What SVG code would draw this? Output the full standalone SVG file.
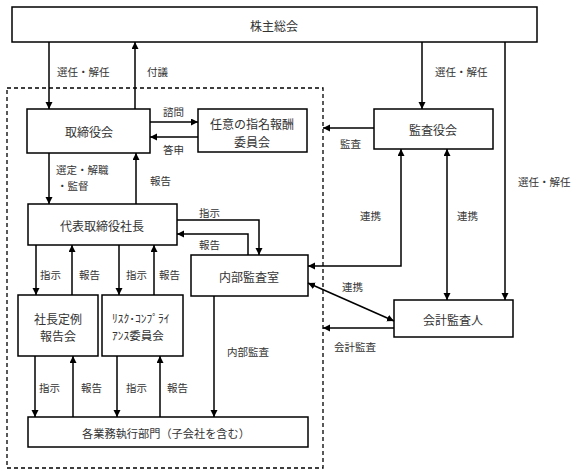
<svg xmlns="http://www.w3.org/2000/svg" width="576" height="474" viewBox="0 0 576 474">
<style>
.box{fill:#fff;stroke:#000;stroke-width:1.5}
.ln{fill:none;stroke:#000;stroke-width:1.5}
.t{font-family:"Noto Sans CJK JP","Noto Sans",sans-serif;font-size:12px;fill:#333;text-anchor:middle;dominant-baseline:central}
.l{font-family:"Noto Sans CJK JP","Noto Sans",sans-serif;font-size:10.5px;fill:#333;dominant-baseline:central}
.dash{fill:none;stroke:#000;stroke-width:1.3;stroke-dasharray:4 3}
</style>
<defs>
<marker id="ah" markerUnits="userSpaceOnUse" markerWidth="8" markerHeight="8" refX="7" refY="3.5" orient="auto-start-reverse">
<path d="M0,0 L7,3.5 L0,7 z" fill="#000"/>
</marker>
</defs>
<rect width="576" height="474" fill="#fff"/>
<rect class="dash" x="7" y="88" width="316" height="380"/>

<g id="kabunushi"><rect class="box" x="12" y="7" width="525" height="35"/><text class="t" x="274" y="25">株主総会</text></g>
<g id="torishimariyakukai"><rect class="box" x="27" y="109" width="123" height="44"/><text class="t" x="89" y="131">取締役会</text></g>
<g id="nin-i"><rect class="box" x="198" y="109" width="109" height="43"/><text class="t" x="252" y="123">任意の指名報酬</text><text class="t" x="252" y="141">委員会</text></g>
<g id="kansayakukai"><rect class="box" x="374" y="109" width="119" height="40"/><text class="t" x="433" y="129">監査役会</text></g>
<g id="daihyo"><rect class="box" x="28" y="204" width="149" height="41"/><text class="t" x="102" y="225">代表取締役社長</text></g>
<g id="naibu"><rect class="box" x="191" y="255" width="117" height="41"/><text class="t" x="249" y="276">内部監査室</text></g>
<g id="kaikei"><rect class="box" x="394" y="300" width="119" height="37"/><text class="t" x="453" y="319">会計監査人</text></g>
<g id="shacho"><rect class="box" x="18" y="295" width="80" height="61"/><text class="t" x="58" y="318">社長定例</text><text class="t" x="58" y="335">報告会</text></g>
<g id="risk"><rect class="box" x="102" y="295" width="81" height="61"/><text class="t" x="112" y="318" style="text-anchor:start;font-size:11.5px">ﾘｽｸ･ｺﾝﾌﾟﾗｲ</text><text class="t" x="112" y="335" style="text-anchor:start;font-size:11.5px">ｱﾝｽ委員会</text></g>
<g id="gyomu"><rect class="box" x="28" y="417" width="280" height="30"/><text class="t" x="166" y="433" style="font-size:11.2px">各業務執行部門（子会社を含む）</text></g>

<g id="connectors">
<line class="ln" x1="49" y1="42" x2="49" y2="109" marker-end="url(#ah)"/>
<line class="ln" x1="135" y1="109" x2="135" y2="42" marker-end="url(#ah)"/>
<line class="ln" x1="422" y1="42" x2="422" y2="109" marker-end="url(#ah)"/>
<line class="ln" x1="505" y1="42" x2="505" y2="300" marker-end="url(#ah)"/>
<line class="ln" x1="150" y1="122" x2="198" y2="122" marker-end="url(#ah)"/>
<line class="ln" x1="198" y1="137" x2="150" y2="137" marker-end="url(#ah)"/>
<line class="ln" x1="374" y1="128" x2="323" y2="128" marker-end="url(#ah)"/>
<line class="ln" x1="49" y1="153" x2="49" y2="204" marker-end="url(#ah)"/>
<line class="ln" x1="136" y1="204" x2="136" y2="153" marker-end="url(#ah)"/>
<path class="ln" d="M177,220 H259 V255" marker-end="url(#ah)"/>
<path class="ln" d="M248,255 V234 H177" marker-end="url(#ah)"/>
<line class="ln" x1="36" y1="245" x2="36" y2="295" marker-end="url(#ah)"/>
<line class="ln" x1="72" y1="295" x2="72" y2="245" marker-end="url(#ah)"/>
<line class="ln" x1="119" y1="245" x2="119" y2="295" marker-end="url(#ah)"/>
<line class="ln" x1="154" y1="295" x2="154" y2="245" marker-end="url(#ah)"/>
<line class="ln" x1="35" y1="356" x2="35" y2="417" marker-end="url(#ah)"/>
<line class="ln" x1="73" y1="417" x2="73" y2="356" marker-end="url(#ah)"/>
<line class="ln" x1="117" y1="356" x2="117" y2="417" marker-end="url(#ah)"/>
<line class="ln" x1="160" y1="417" x2="160" y2="356" marker-end="url(#ah)"/>
<line class="ln" x1="214" y1="296" x2="214" y2="417" marker-end="url(#ah)"/>
<path class="ln" d="M401,149 V266 H308" marker-start="url(#ah)" marker-end="url(#ah)"/>
<line class="ln" x1="447" y1="149" x2="447" y2="300" marker-start="url(#ah)" marker-end="url(#ah)"/>
<line class="ln" x1="308" y1="283" x2="394" y2="321" marker-start="url(#ah)" marker-end="url(#ah)"/>
<line class="ln" x1="394" y1="328" x2="323" y2="328" marker-end="url(#ah)"/>
</g>

<g id="labels">
<text class="l" x="57" y="71">選任・解任</text>
<text class="l" x="147" y="71">付議</text>
<text class="l" x="435" y="71">選任・解任</text>
<text class="l" x="163" y="111">諮問</text>
<text class="l" x="163" y="149">答申</text>
<text class="l" x="340" y="143">監査</text>
<text class="l" x="56" y="169">選定・解職</text>
<text class="l" x="57" y="185">・監督</text>
<text class="l" x="150" y="180">報告</text>
<text class="l" x="199" y="212">指示</text>
<text class="l" x="199" y="244">報告</text>
<text class="l" x="40" y="274">指示</text>
<text class="l" x="79" y="274">報告</text>
<text class="l" x="126" y="274">指示</text>
<text class="l" x="159" y="274">報告</text>
<text class="l" x="39" y="387">指示</text>
<text class="l" x="81" y="387">報告</text>
<text class="l" x="126" y="387">指示</text>
<text class="l" x="167" y="387">報告</text>
<text class="l" x="227" y="351">内部監査</text>
<text class="l" x="360" y="215">連携</text>
<text class="l" x="457" y="215">連携</text>
<text class="l" x="518" y="181">選任・解任</text>
<text class="l" x="342" y="286">連携</text>
<text class="l" x="334" y="346">会計監査</text>
</g>
</svg>
